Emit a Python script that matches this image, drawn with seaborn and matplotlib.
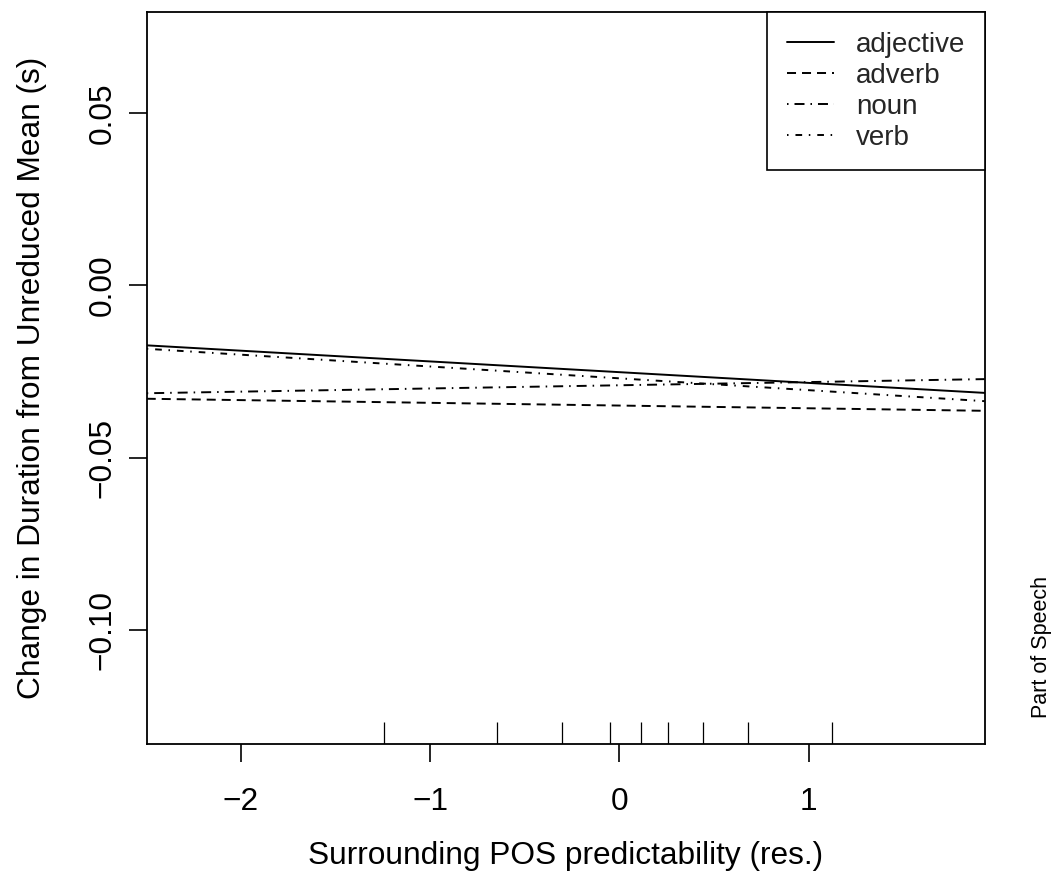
import numpy as np
import pandas as pd
import matplotlib
matplotlib.use("Agg")
import matplotlib.pyplot as plt
import seaborn as sns

# ---- data ----
x_range = [-2.497, 1.931]
adjective = [-0.0174, -0.0312]
adverb = [-0.0329, -0.0364]
noun = [-0.0313, -0.0272]
verb = [-0.0184, -0.0336]
pos_names = ["adjective", "adverb", "noun", "verb"]
rug_x = [-1.243, -0.647, -0.300, -0.049, 0.115, 0.259, 0.441, 0.679, 1.125]
x_ticks = [-2, -1, 0, 1]
y_ticks = [-0.10, -0.05, 0.00, 0.05]

sns.set_theme(style="ticks")
plt.rcParams["font.family"] = ["Liberation Sans", "DejaVu Sans"]
plt.rcParams["lines.scale_dashes"] = False
plt.rcParams["axes.unicode_minus"] = True

df = pd.DataFrame({
    "x": x_range * 4,
    "y": adjective + adverb + noun + verb,
    "pos": [p for p in pos_names for _ in range(2)],
})

fig = plt.figure(figsize=(10.55, 8.88), dpi=100)
ax = fig.add_axes([146.7 / 1055, 1 - 744 / 888, (984.7 - 146.7) / 1055, (744 - 12.5) / 888])

dash_map = {
    "adjective": "",
    "adverb": (6.5, 4.3),
    "noun": (1.1, 4.3, 7.2, 4.3),
    "verb": (1.1, 5.0, 4.8, 4.8),
}
sns.lineplot(data=df, x="x", y="y", style="pos", style_order=pos_names,
             dashes=dash_map, color="black", linewidth=1.4, ax=ax, legend=False)

sns.rugplot(x=rug_x, height=0.030, color="black", linewidth=0.9, ax=ax)

ax.set_xlim(x_range[0], x_range[1])
ax.set_ylim(-0.1331, 0.0792)
ax.set_xticks(x_ticks)
ax.set_xticklabels([f"{t:d}".replace("-", "\u2212") for t in x_ticks])
ax.set_yticks(y_ticks)
ax.set_yticklabels([f"{t:.2f}".replace("-", "\u2212") for t in y_ticks])

fs = 22.8
ax.tick_params(axis="both", direction="out", length=13, width=1.2, color="black",
               labelsize=fs, labelcolor="black")
ax.tick_params(axis="x", pad=18)
ax.tick_params(axis="y", pad=8, labelrotation=90)
for lab in ax.get_yticklabels():
    lab.set_va("center")

for s in ax.spines.values():
    s.set_visible(True)
    s.set_color("black")
    s.set_linewidth(1.3)

ax.set_xlabel("Surrounding POS predictability (res.)", fontsize=fs, color="black")
ax.set_ylabel("Change in Duration from Unreduced Mean (s)", fontsize=fs, color="black")
ax.xaxis.set_label_coords(0.5, -(856 - 744) / 731.5)
ax.xaxis.label.set_va("center")
ax.yaxis.set_label_coords(-(146.7 - 32) / 838, 0.5)
ax.yaxis.label.set_va("center")

leg = ax.legend(handles=ax.get_lines()[:4], labels=pos_names, loc="upper right",
                fontsize=20, frameon=True, fancybox=False, edgecolor="black",
                framealpha=1, borderaxespad=0, handlelength=1.69,
                handletextpad=0.8, labelspacing=0.18, borderpad=0.7)
leg.get_frame().set_linewidth(1.2)

fig.text(1042 / 1055, 1 - 647 / 888, "Part of Speech", rotation=90,
         ha="center", va="center", fontsize=15.5, color="black")

fig.savefig("out.png", dpi=100)
